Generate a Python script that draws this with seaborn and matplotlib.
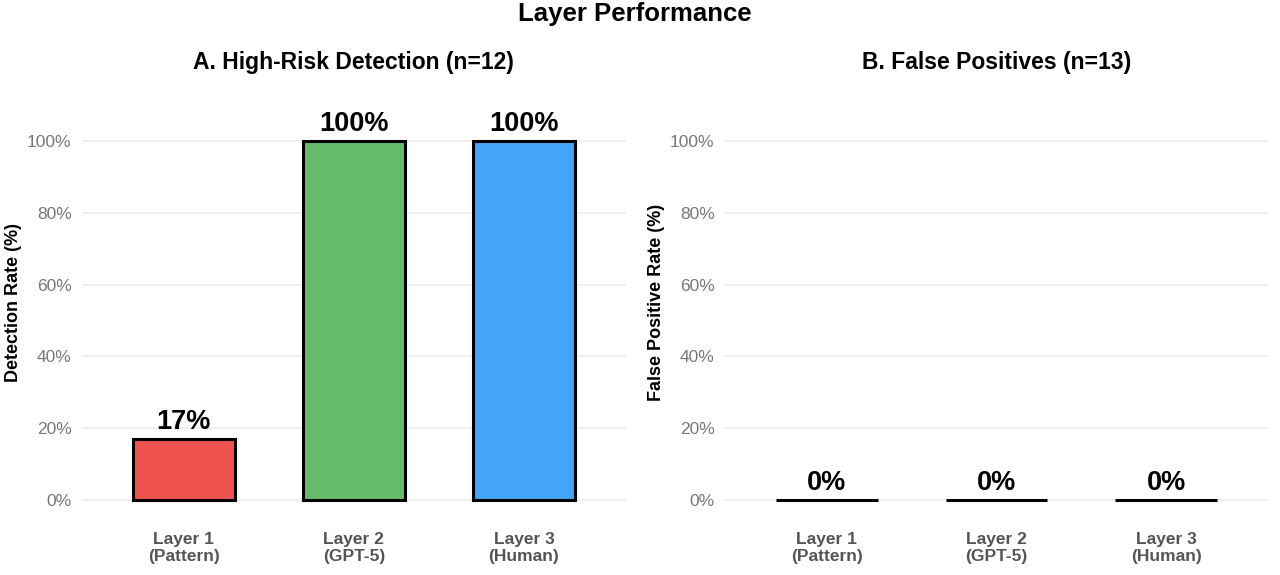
import matplotlib.pyplot as plt
import pandas as pd
import seaborn as sns

# values
layers = ["Layer 1\n(Pattern)", "Layer 2\n(GPT-5)", "Layer 3\n(Human)"]
detectionRate = [17, 100, 100]
falsePositiveRate = [0, 0, 0]
barColors = ["#EF5350", "#66BB6A", "#42A5F5"]
yTicks = [0, 20, 40, 60, 80, 100]
panelTitles = ["A. High-Risk Detection (n=12)", "B. False Positives (n=13)"]
yLabels = ["Detection Rate (%)", "False Positive Rate (%)"]

sns.set_theme(style="white")
plt.rcParams['font.family'] = ['Liberation Sans', 'DejaVu Sans']

df = pd.DataFrame({
    "Layer": layers * 2,
    "Rate": detectionRate + falsePositiveRate,
    "Panel": ["A"] * 3 + ["B"] * 3,
})


def drawPanel(ax, data, yLabel):
    sns.barplot(data=data, x="Layer", y="Rate", hue="Layer", order=layers, hue_order=layers,
                palette=barColors, saturation=1, width=0.6, edgecolor="black", linewidth=2.2,
                legend=False, ax=ax, zorder=3)
    for i, v in enumerate(data["Rate"]):
        ax.annotate(f"{v}%", (i, v), xytext=(0, 3), textcoords="offset points",
                    ha="center", va="bottom", fontsize=19.5, fontweight="bold", color="black")
    ax.set_xlim(-0.6, 2.6)
    ax.set_ylim(-5.5, 115.5)
    ax.set_yticks(yTicks)
    ax.set_yticklabels([f"{t}%" for t in yTicks])
    ax.yaxis.grid(True, color="#EBEBEB", linewidth=1.1, zorder=0)
    ax.xaxis.grid(False)
    for s in ax.spines.values():
        s.set_visible(False)
    ax.tick_params(axis="y", length=0, pad=7.5, labelsize=12.5, labelcolor="#777777")
    ax.tick_params(axis="x", length=0, pad=9, labelsize=12.5, labelcolor="#555555")
    for lab in ax.get_xticklabels():
        lab.set_fontweight("bold")
        lab.set_linespacing(1.1)
    ax.set_xlabel("")
    ax.set_ylabel(yLabel, fontsize=13, fontweight="bold", color="black")
    ax.yaxis.set_label_coords(-0.11, 0.5)


fig = plt.figure(figsize=(12.8, 5.75), dpi=100)
axA = fig.add_axes([0.064, 0.0957, 0.425, 0.7565])
axB = fig.add_axes([0.5664, 0.0957, 0.4243, 0.7565])

drawPanel(axA, df[df["Panel"] == "A"], yLabels[0])
drawPanel(axB, df[df["Panel"] == "B"], yLabels[1])

for ax, title in zip([axA, axB], panelTitles):
    pos = ax.get_position()
    fig.text((pos.x0 + pos.x1) / 2, 1 - 62 / 575, title, ha="center", va="center",
             fontsize=16.5, fontweight="bold", color="black")

fig.text(0.496, 1 - 14 / 575, "Layer Performance", ha="center", va="center",
         fontsize=18.5, fontweight="bold", color="black")

plt.savefig("out.png", dpi=100)
plt.close()
